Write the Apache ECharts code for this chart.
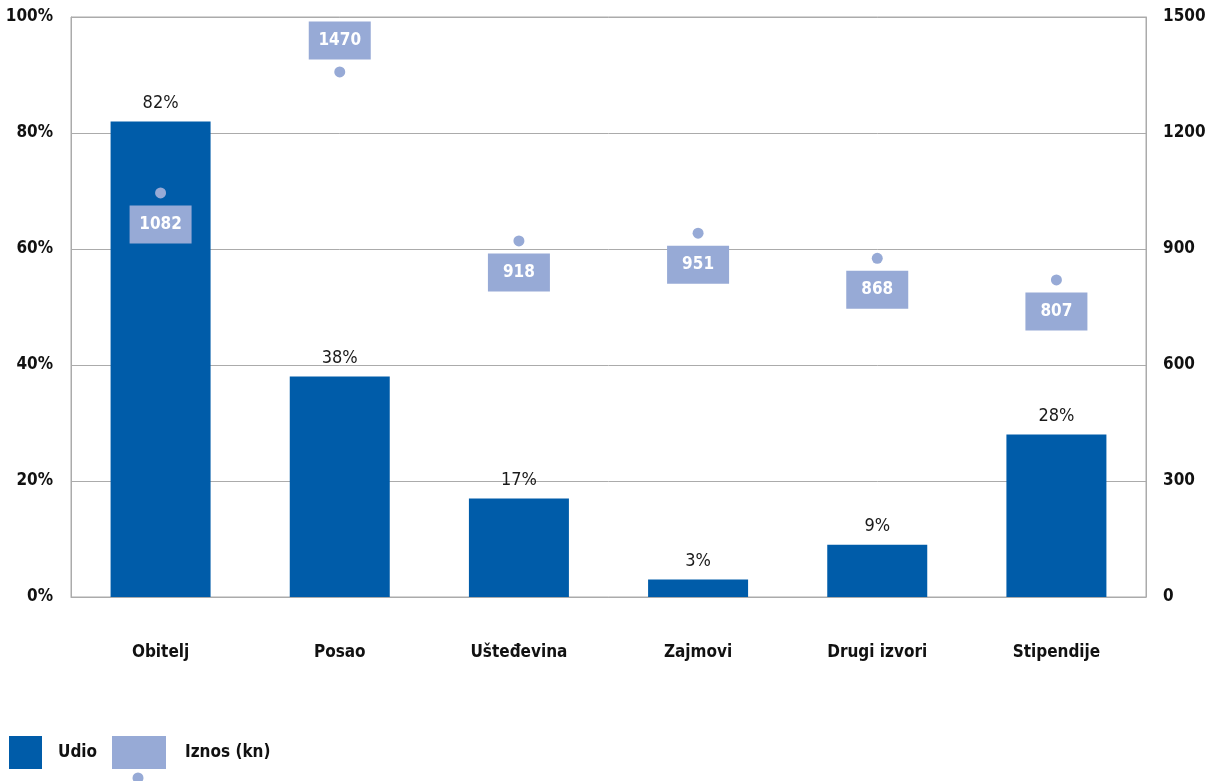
<!DOCTYPE html>
<html>
<head>
<meta charset="utf-8">
<script src="https://cdn.jsdelivr.net/npm/echarts@6/dist/echarts.min.js"></script>
<style>
html,body{margin:0;padding:0;background:#fff;}
#c{width:1211px;height:781px;}
</style>
</head>
<body>
<div id="c"></div>
<script>
const categories = ['Obitelj', 'Posao', 'Ušteđevina', 'Zajmovi', 'Drugi izvori', 'Stipendije'];
const udio = [82, 38, 17, 3, 9, 28];
const iznosPoints = [1045, 1358, 921, 941, 876, 820];
const iznosLabels = [1082, 1470, 918, 951, 868, 807];
const leftTicks = [0, 20, 40, 60, 80, 100];
const rightTicks = [0, 300, 600, 900, 1200, 1500];

const FONT = "'DejaVu Sans Condensed', 'Liberation Sans Narrow', sans-serif";
const DARK = '#005CA9';
const LIGHT = '#97AAD6';
const GRID = '#ABABAB';

const chart = echarts.init(document.getElementById('c'));
chart.setOption({
  animation: false,
  backgroundColor: '#fff',
  textStyle: { fontFamily: FONT },
  grid: { left: 71, right: 65, top: 17, bottom: 184, show: true, borderColor: GRID, borderWidth: 1 },
  legend: [
    {
      left: 9, top: 736, padding: 0, itemWidth: 33, itemHeight: 33, itemGap: 10,
      data: [{ name: 'Udio', icon: 'rect' }],
      textStyle: { fontFamily: FONT, fontSize: 17, fontWeight: 'bold', color: '#111', padding: [0, 0, 0, 11] }
    },
    {
      left: 112, top: 736, padding: 0, itemWidth: 54, itemHeight: 33,
      data: [{ name: 'Iznos (kn)', icon: 'rect', itemStyle: { color: LIGHT, opacity: 1 } }],
      textStyle: { fontFamily: FONT, fontSize: 17, fontWeight: 'bold', color: '#111', padding: [0, 0, 0, 14] }
    }
  ],
  graphic: [
    { type: 'circle', shape: { cx: 138, cy: 778, r: 5.5 }, style: { fill: LIGHT } }
  ],
  xAxis: {
    type: 'category',
    data: categories,
    axisLine: { show: true, lineStyle: { color: GRID } },
    axisTick: { show: false },
    axisLabel: { margin: 47, fontFamily: FONT, fontSize: 17, fontWeight: 'bold', color: '#111' }
  },
  yAxis: [
    {
      type: 'value', min: 0, max: 100, interval: 20,
      axisLine: { show: true, lineStyle: { color: GRID } },
      axisTick: { show: false },
      splitLine: { show: true, lineStyle: { color: GRID, width: 1 } },
      axisLabel: { margin: 18, formatter: v => v + '%', fontFamily: FONT, fontSize: 17, fontWeight: 'bold', color: '#111' }
    },
    {
      type: 'value', min: 0, max: 1500, interval: 300,
      axisLine: { show: true, lineStyle: { color: GRID } },
      axisTick: { show: false },
      splitLine: { show: false },
      axisLabel: { margin: 17, formatter: v => String(v), fontFamily: FONT, fontSize: 17, fontWeight: 'bold', color: '#111' }
    }
  ],
  series: [
    {
      name: 'Udio',
      type: 'bar',
      data: udio,
      barWidth: 100,
      itemStyle: { color: DARK },
      label: {
        show: true, position: 'top', distance: 9,
        formatter: p => p.value + '%',
        fontFamily: FONT, fontSize: 18, color: '#1a1a1a'
      }
    },
    {
      name: 'Iznos (kn)',
      type: 'scatter',
      yAxisIndex: 1,
      data: iznosPoints.map((v, i) => i === 1
        ? { value: v, label: { position: 'top', distance: 7 } }
        : v),
      symbol: 'circle',
      symbolSize: 11,
      itemStyle: { color: LIGHT, opacity: 1 },
      label: {
        show: true, position: 'bottom', distance: 7,
        formatter: p => String(iznosLabels[p.dataIndex]),
        backgroundColor: LIGHT,
        width: 62, padding: [10, 0, 10, 0], lineHeight: 18,
        fontFamily: FONT, fontSize: 17, fontWeight: 'bold', color: '#fff'
      },
      z: 5
    }
  ]
});
</script>
</body>
</html>
